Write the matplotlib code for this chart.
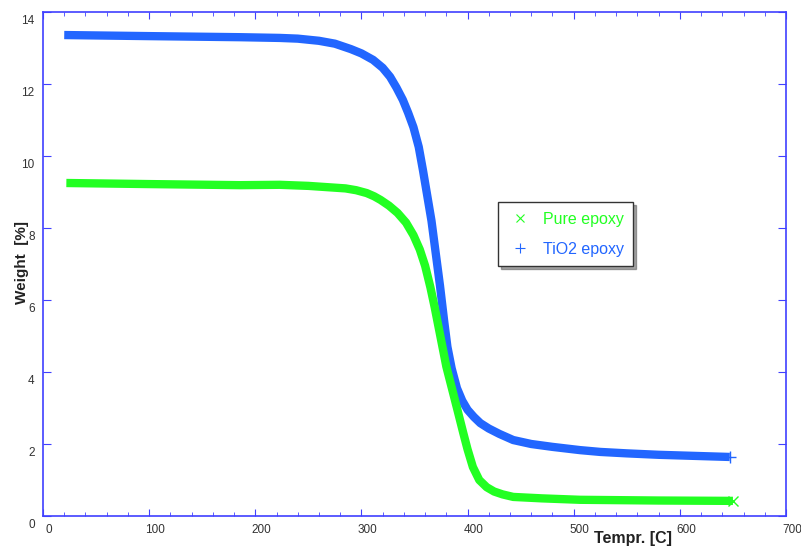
import numpy as np
import matplotlib
matplotlib.use("Agg")
import matplotlib.pyplot as plt
import matplotlib.transforms as mtransforms
from matplotlib.lines import Line2D
from matplotlib.ticker import MultipleLocator

plt.rcParams['font.family'] = ['Liberation Sans', 'DejaVu Sans']

# =====================================================
# DATA
# =====================================================

temp_tio2 = [20, 100, 186, 223, 240, 260, 275, 290, 300, 311, 320, 327, 333,
             339, 344, 349, 354, 358, 362, 366, 370, 374, 378, 381, 385, 390,
             395, 400, 406, 412, 420, 430, 443, 460, 480, 506, 525, 550, 580,
             647]
weight_tio2 = [13.36, 13.33, 13.3, 13.28, 13.26, 13.2, 13.12, 12.97, 12.85,
               12.67, 12.45, 12.2, 11.9, 11.56, 11.2, 10.8, 10.25, 9.6, 8.9,
               8.2, 7.3, 6.4, 5.4, 4.7, 4.1, 3.55, 3.2, 2.95, 2.75, 2.58, 2.43,
               2.28, 2.11, 2.0, 1.92, 1.83, 1.78, 1.74, 1.7, 1.64]

temp_pure = [22, 100, 186, 223, 250, 270, 285, 295, 305, 312, 318, 326, 334,
             342, 349, 355, 360, 365, 369, 373, 377, 380, 384, 390, 396, 400,
             405, 411, 418, 425, 433, 443, 470, 506, 580, 650]
weight_pure = [9.25, 9.22, 9.19, 9.2, 9.17, 9.13, 9.1, 9.05, 8.97, 8.88, 8.78,
               8.62, 8.42, 8.15, 7.8, 7.4, 6.95, 6.35, 5.8, 5.2, 4.6, 4.15,
               3.69, 3.0, 2.3, 1.85, 1.36, 1.0, 0.8, 0.68, 0.6, 0.53, 0.49,
               0.45, 0.43, 0.42]

series_names = ["Pure epoxy", "TiO2 epoxy"]
green = "#22ff22"
blue = "#2266ff"
axis_blue = "#4040ff"

# =====================================================
# PLOT
# =====================================================

fig = plt.figure(figsize=(8.01, 5.48), dpi=100)
ax = fig.add_axes([43 / 801, 32 / 548, 743 / 801, 504 / 548])

ax.plot(temp_tio2, weight_tio2, color=blue, lw=6, solid_capstyle="butt",
        solid_joinstyle="round")
ax.plot(temp_pure, weight_pure, color=green, lw=6, solid_capstyle="butt",
        solid_joinstyle="round")
# end markers
ax.plot(temp_tio2[-1], weight_tio2[-1], marker="+", color=blue, ms=9, mew=1)
ax.plot(temp_pure[-1], weight_pure[-1], marker="x", color=green, ms=7, mew=1)

ax.set_xlim(0, 700)
ax.set_ylim(0, 14)
ax.xaxis.set_major_locator(MultipleLocator(100))
ax.xaxis.set_minor_locator(MultipleLocator(20))
ax.yaxis.set_major_locator(MultipleLocator(2))

for s in ax.spines.values():
    s.set_color(axis_blue)
    s.set_linewidth(1.2)

ax.tick_params(axis="both", which="both", direction="in", colors=axis_blue,
               labelcolor="#333333", labelsize=8.5)
ax.tick_params(axis="x", which="major", length=5, top=True, pad=6)
ax.tick_params(axis="x", which="minor", length=3, top=True)
ax.tick_params(axis="y", which="major", length=6, right=True, pad=6)

# shift tick labels like the original
dx = mtransforms.ScaledTranslation(6 / 100, 0, fig.dpi_scale_trans)
dy = mtransforms.ScaledTranslation(0, -8 / 100, fig.dpi_scale_trans)
for lab in ax.get_xticklabels():
    lab.set_transform(lab.get_transform() + dx)
for lab in ax.get_yticklabels():
    lab.set_transform(lab.get_transform() + dy)

fig.text(22 / 801, 1 - 262 / 548, "Weight  [%]", rotation=90, fontsize=11,
         fontweight="bold", color="#222222", ha="center", va="center")
fig.text(633 / 801, 1 - 538 / 548, "Tempr. [C]", fontsize=11.5,
         fontweight="bold", color="#222222", ha="center", va="center")

handles = [
    Line2D([], [], marker="x", ls="none", color=green, ms=6, mew=0.8),
    Line2D([], [], marker="+", ls="none", color=blue, ms=7, mew=0.8),
]
leg = ax.legend(handles, series_names, loc="upper left",
                bbox_to_anchor=(455 / 743, 1 - 190 / 504), borderaxespad=0,
                fontsize=11.5, frameon=True, fancybox=False, shadow=True,
                handlelength=1.5, borderpad=0.6, labelspacing=0.95,
                handletextpad=0.7)
leg.get_frame().set_edgecolor("#333333")
leg.get_frame().set_linewidth(1)
for t, c in zip(leg.get_texts(), [green, blue]):
    t.set_color(c)

fig.savefig("out.png", dpi=100)
